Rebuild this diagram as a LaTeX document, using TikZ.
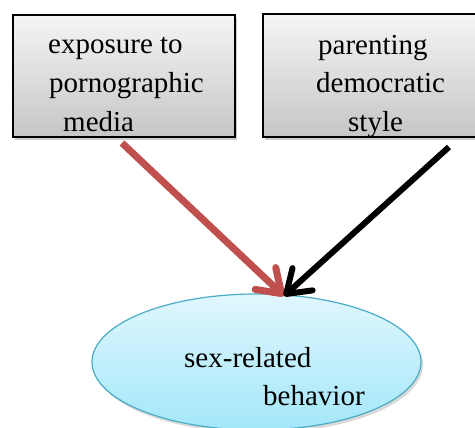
\documentclass[tikz,border=0pt]{standalone}
\usepackage{fontspec}
\setmainfont{Liberation Serif}
\newfontfamily\boxfont{Liberation Serif}
\usetikzlibrary{arrows.meta}
\usetikzlibrary{shapes.geometric}
\usetikzlibrary{shadows}
\definecolor{arrowred}{RGB}{192,80,77}
\definecolor{ovalline}{RGB}{75,172,198}
\definecolor{ovaltop}{RGB}{224,247,253}
\definecolor{ovalbottom}{RGB}{163,231,250}
\begin{document}
\begin{tikzpicture}[x=1pt,y=-1pt,
  box/.style={draw,line width=1.4pt,rectangle,inner sep=0pt,top color=gray!8,bottom color=gray!45,
    drop shadow={shadow xshift=2pt,shadow yshift=-3pt,opacity=0.4}},
  txt/.style={anchor=base west,inner sep=0pt,font=\boxfont\fontsize{29}{35}\selectfont},
  link/.style={-{Straight Barb[length=22pt,width=30pt,round]}}]
  \useasboundingbox (0,0) rectangle (475,428);

  % the two causes
  \node[box,minimum width=222pt,minimum height=122pt] (media) at (124,76) {};
  \node[box,minimum width=216pt,minimum height=123pt] (style) at (371,75.5) {};

  \node[txt] (media1) at (48,54) {exposure to};
  \node[txt] (media2) at (49,93) {pornographic};
  \node[txt] (media3) at (63,132) {media};

  \node[txt] (style1) at (318,55) {parenting};
  \node[txt] (style2) at (316,93) {democratic};
  \node[txt] (style3) at (348,132) {style};

  % the effect
  \node[ellipse,draw=ovalline,line width=1.2pt,top color=ovaltop,bottom color=ovalbottom,
    minimum width=329pt,minimum height=136pt,inner sep=0pt,
    drop shadow={shadow xshift=2pt,shadow yshift=-3pt,opacity=0.3}] (behavior) at (256.5,362) {};
  \node[txt] (behavior1) at (184,367) {sex-related};
  \node[txt] (behavior2) at (263,405) {behavior};

  \coordinate (mediaend) at (122,143);
  \coordinate (styleend) at (449,147);
  \coordinate (tip) at (284,296);

  \draw[link,line width=7pt,arrowred](mediaend)--(tip);
  \draw[link,line width=6pt,black](styleend)--(tip);
\end{tikzpicture}
\end{document}
